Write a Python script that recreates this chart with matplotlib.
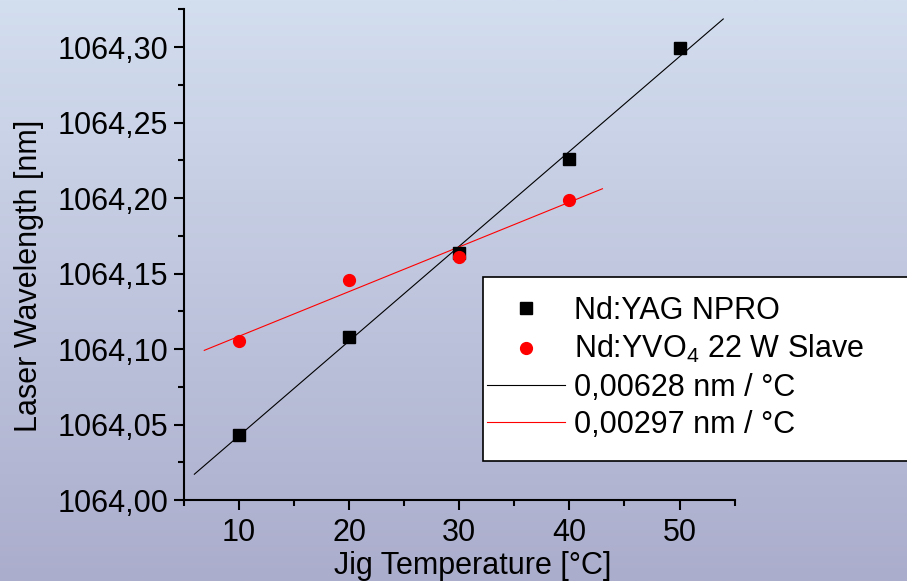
import matplotlib
matplotlib.use('Agg')
import matplotlib.pyplot as plt
from matplotlib.colors import LinearSegmentedColormap
from matplotlib.patches import Rectangle
import numpy as np

# measured points
temp = [10, 20, 30, 40, 50]
yag_nm = [1064.0432, 1064.1078, 1064.1636, 1064.2262, 1064.2993]
temp_yvo = [10, 20, 30, 40]
yvo_nm = [1064.1051, 1064.1457, 1064.1610, 1064.1989]

# linear fits (end points)
yag_fit_x = [5.94, 53.97]
yag_fit_y = [1064.0172, 1064.3186]
yvo_fit_x = [6.84, 43.0]
yvo_fit_y = [1064.0992, 1064.2062]

labels = ['Nd:YAG NPRO', 'Nd:YVO$_4$ 22 W Slave',
          '0,00628 nm / °C', '0,00297 nm / °C']

plt.rcParams['font.family'] = ['Liberation Sans', 'DejaVu Sans']
plt.rcParams['mathtext.fontset'] = 'custom'
plt.rcParams['mathtext.rm'] = 'Liberation Sans'
plt.rcParams['mathtext.it'] = 'Liberation Sans:italic'
plt.rcParams['mathtext.bf'] = 'Liberation Sans:bold'

fs = 22

fig = plt.figure(figsize=(9.07, 5.81), dpi=100)

# gradient background
bg = fig.add_axes([0, 0, 1, 1], zorder=-1)
cmap = LinearSegmentedColormap.from_list('bg', ['#D3DEEF', '#ABADCC'])
bg.imshow(np.linspace(0, 1, 256).reshape(-1, 1), aspect='auto', cmap=cmap,
          extent=[0, 1, 0, 1])
bg.axis('off')

ax = fig.add_axes([184/907, 1-500.2/581, 550.6/907, 490.9/581])
ax.set_facecolor('none')

ax.plot(yag_fit_x, yag_fit_y, color='black', lw=0.8, label=labels[2])
ax.plot(yvo_fit_x, yvo_fit_y, color='red', lw=0.8, label=labels[3])
ax.plot(temp, yag_nm, 's', color='black', ms=8, label=labels[0])
ax.plot(temp_yvo, yvo_nm, 'o', color='red', ms=8.5, label=labels[1])

ax.set_xlim(5, 55)
ax.set_ylim(1064.0, 1064.325)
ax.set_xticks([10, 20, 30, 40, 50])
ax.set_xticks([5, 15, 25, 35, 45, 55], minor=True)
ax.set_yticks([1064.0, 1064.05, 1064.1, 1064.15, 1064.2, 1064.25, 1064.3])
ax.set_yticks([1064.025, 1064.075, 1064.125, 1064.175, 1064.225, 1064.275, 1064.325], minor=True)
ax.set_yticklabels(['1064,00', '1064,05', '1064,10', '1064,15', '1064,20', '1064,25', '1064,30'])

for s in ['top', 'right']:
    ax.spines[s].set_visible(False)
for s in ['left', 'bottom']:
    ax.spines[s].set_linewidth(1.5)

ax.tick_params(which='major', length=7.5, width=1.5, labelsize=fs, direction='out')
ax.tick_params(which='minor', length=4.5, width=1.5, direction='out')
ax.tick_params(axis='y', which='major', pad=4)
ax.tick_params(axis='x', which='major', pad=5)

ax.set_xlabel('Jig Temperature [°C]', fontsize=fs)
ax.set_ylabel('Laser Wavelength [nm]', fontsize=fs)
ax.xaxis.set_label_coords(0.525, -0.104)
ax.yaxis.set_label_coords(-0.254, 0.457)

# legend box
box = Rectangle((483/907, 1-461/581), 0.6, 184/581, transform=fig.transFigure,
                facecolor='white', edgecolor='black', lw=1.2, zorder=4, clip_on=False)
ax.add_artist(box)

h, l = ax.get_legend_handles_labels()
order = [2, 3, 0, 1]
leg = ax.legend([h[i] for i in order], [l[i] for i in order],
                loc='upper left', bbox_to_anchor=(487/907, 1-296/581),
                bbox_transform=fig.transFigure, frameon=False, fontsize=fs,
                borderpad=0, borderaxespad=0, handlelength=2.55,
                handletextpad=0.3, labelspacing=0.24)
leg.set_zorder(5)

plt.savefig('out.png', dpi=100)
